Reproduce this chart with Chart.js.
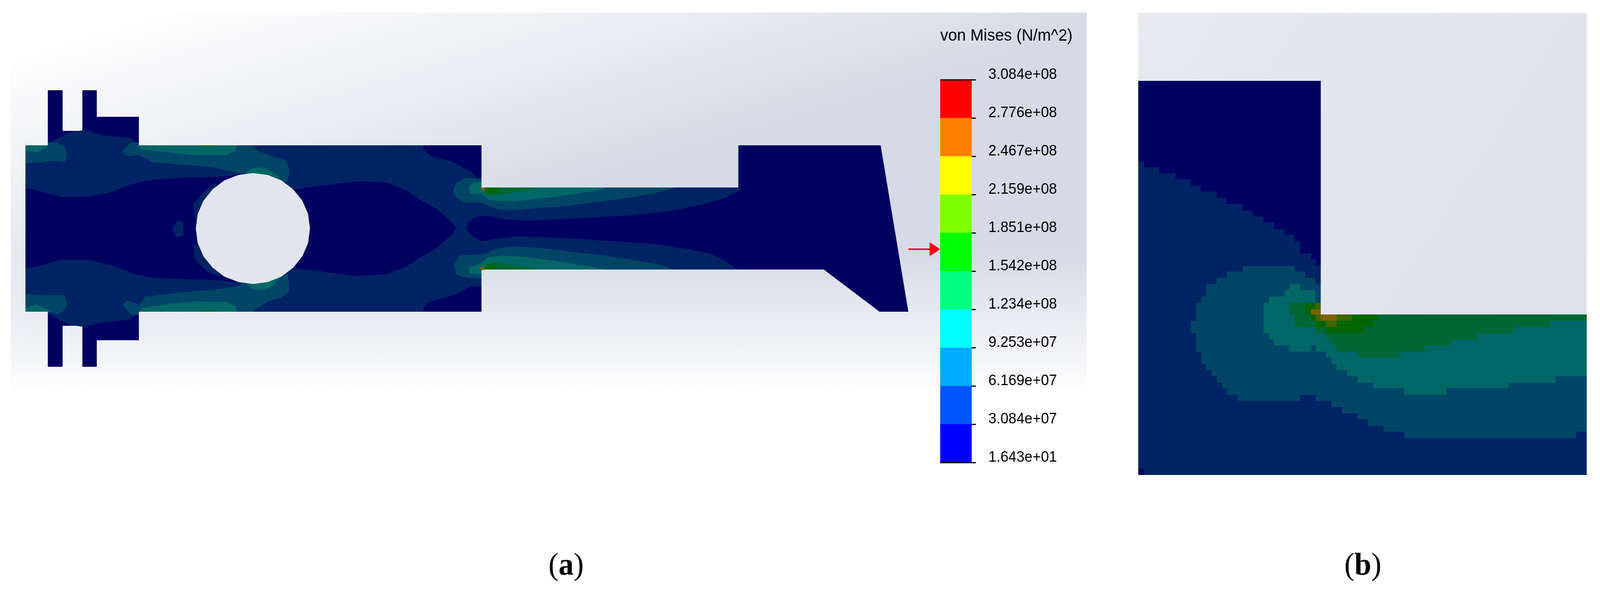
<!DOCTYPE html>
<html>
<head>
<meta charset="utf-8">
<title>von Mises stress</title>
<script src="https://cdn.jsdelivr.net/npm/chart.js@4/dist/chart.umd.js"></script>
<style>
    html, body { margin: 0; padding: 0; background: #fff; overflow: hidden; }
    #stage { position: relative; width: 4217px; height: 1513px; overflow: hidden; transform-origin: 0 0; }
    canvas { position: absolute; }
    #part { left: 0; top: 0; }
    #scale { left: 2470px; top: 40px; }
    .caption { position: absolute; top: 1399px; font: 80px "Liberation Serif", serif; color: #000; transform: translateX(-50%); }
</style>
</head>
<body>
<div id="stage">
    <canvas id="part" width="4217" height="1513"></canvas>
    <canvas id="scale" width="460" height="1200"></canvas>
    <div class="caption" style="left:1492px">(<b>a</b>)</div>
    <div class="caption" style="left:3592px">(<b>b</b>)</div>
</div>
<script>
// the window can come out narrower than the picture, squeeze the stage to fit
document.getElementById('stage').style.transform = 'scaleX(' + Math.min(1, window.innerWidth / 4217) + ')';

// colour scale
const SCALE_TITLE = 'von Mises (N/m^2)';
const TICK_VALUES = [1.643e1, 3.084e7, 6.169e7, 9.253e7, 1.234e8, 1.542e8, 1.851e8, 2.159e8, 2.467e8, 2.776e8, 3.084e8];
const TICK_LABELS = ['1.643e+01', '3.084e+07', '6.169e+07', '9.253e+07', '1.234e+08', '1.542e+08', '1.851e+08', '2.159e+08', '2.467e+08', '2.776e+08', '3.084e+08'];
const BAND_COLORS = ['#0000ff', '#0055ff', '#00aaff', '#00ffff', '#00ff80', '#00ff00', '#80ff00', '#ffff00', '#ff8000', '#ff0000'];

// shaded stress levels on the model
const L0 = '#000060', L1 = '#002364', L2 = '#004566', L3 = '#006666', L4 = '#006633', L5 = '#006600', L6 = '#3f6600', L7 = '#806000';

const A_OUTLINE = [[67,372],[126,372],[126,231],[165,231],[165,335],[217,335],[217,231],[255,231],[255,299],[366,299],[366,372],[1269,372],[1269,480],[1946,480],[1946,372],[2321,372],[2394,798],[2318,798],[2171,690],[1269,690],[1269,798],[366,798],[366,871],[255,871],[255,939],[217,939],[217,834],[165,834],[165,939],[126,939],[126,798],[67,798]];
const A_L1_UPPER = [[67,372],[126,372],[126,367],[183,338],[223,333],[268,346],[344,353],[366,372],[1116,372],[1116,383],[1134,399],[1196,415],[1241,440],[1269,466],[1269,480],[1946,480],[1953,480],[1953,486],[1904,509],[1850,524],[1761,541],[1671,551],[1573,556],[1502,560],[1412,564],[1359,564],[1323,561],[1292,554],[1267,552],[1247,560],[1234,572],[1228,585],[1203,585],[1189,568],[1154,537],[1100,507],[1071,488],[1018,467],[946,464],[848,475],[777,485],[625,448],[571,453],[478,455],[402,460],[357,469],[286,494],[232,504],[161,504],[98,488],[67,481]];
const A_L1_LOWER = [[67,687],[103,681],[161,665],[232,665],[295,679],[357,702],[402,711],[473,714],[571,717],[625,723],[777,687],[848,695],[938,707],[1018,702],[1071,682],[1100,664],[1154,633],[1189,602],[1203,585],[1228,585],[1247,606],[1267,618],[1305,612],[1359,605],[1404,606],[1502,610],[1573,615],[1627,618],[1738,626],[1805,637],[1868,648],[1904,664],[1944,690],[1269,690],[1269,734],[1241,733],[1196,756],[1134,772],[1116,786],[1116,798],[366,798],[344,818],[268,826],[223,837],[183,832],[126,804],[126,798],[67,798]];
const A_L1_CRESCENT_TOP = [[571,466],[536,491],[509,523],[513,552],[518,568],[560,520]];
const A_L1_CRESCENT_LOW = [[509,622],[513,663],[545,695],[580,708],[600,680]];
const A_L1_BLOB = [[469,563],[482,568],[484,603],[464,607],[453,587]];
const A_L2_TOP = [[366,372],[366,365],[344,365],[323,389],[335,400],[366,397],[402,415],[473,421],[554,427],[616,440],[643,445],[741,472],[759,462],[763,434],[754,411],[714,399],[679,386],[665,372]];
const A_L2_CORNER_TOP = [[67,372],[126,372],[126,365],[152,365],[170,376],[177,395],[170,415],[134,411],[116,416],[67,418]];
const A_L2_LOW = [[366,798],[366,807],[344,805],[323,781],[335,768],[366,781],[384,759],[473,749],[554,743],[625,733],[643,724],[741,708],[759,702],[762,746],[741,762],[705,772],[665,798]];
const A_L2_CORNER_LOW = [[67,753],[116,756],[170,756],[177,778],[170,794],[152,805],[126,798],[67,798]];
const A_L2_NECK_TOP = [[1269,457],[1265,457],[1225,456],[1203,468],[1194,488],[1203,507],[1221,519],[1270,519],[1310,535],[1341,539],[1372,537],[1417,532],[1466,530],[1537,522],[1636,509],[1716,497],[1774,482],[1777,480],[1269,480]];
const A_L2_NECK_LOW = [[1269,713],[1225,711],[1203,702],[1196,679],[1212,654],[1274,650],[1314,635],[1354,631],[1426,635],[1502,644],[1591,654],[1680,667],[1743,679],[1776,690],[1269,690]];
const A_L3_TOP = [[360,372],[375,383],[446,390],[509,397],[598,397],[621,386],[625,372]];
const A_L3_HOLE_TOP = [[647,443],[665,430],[692,429],[719,440],[737,458],[690,460]];
const A_L3_CORNER_TOP = [[67,372],[67,386],[94,390],[116,381],[134,367],[126,372]];
const A_L3_LOW = [[366,798],[375,788],[446,778],[509,772],[598,773],[621,785],[625,798]];
const A_L3_HOLE_LOW = [[647,724],[665,740],[692,743],[719,733],[737,711],[690,710]];
const A_L3_CORNER_LOW = [[67,798],[67,788],[94,779],[116,788],[134,798]];
const A_L3_NECK_TOP = [[1269,466],[1247,467],[1236,480],[1238,495],[1270,497],[1288,512],[1350,516],[1417,509],[1471,503],[1573,488],[1600,480],[1269,480]];
const A_L3_NECK_LOW = [[1269,702],[1238,700],[1234,685],[1265,675],[1288,658],[1323,654],[1386,658],[1471,669],[1546,681],[1596,690],[1269,690]];
const A_L4_STRIP_TOP = [[527,372],[576,372],[570,375],[533,375]];
const A_L4_STRIP_LOW = [[527,798],[576,798],[570,795],[533,795]];
const A_L4_NECK_TOP = [[1269,480],[1283,499],[1314,499],[1395,486],[1417,480]];
const A_L4_NECK_LOW = [[1269,690],[1279,679],[1301,671],[1350,679],[1417,688],[1420,690]];
const A_L5_NECK_TOP = [[1280,483],[1292,499],[1310,490],[1314,480],[1280,480]];
const A_L5_NECK_LOW = [[1275,690],[1283,678],[1300,675],[1310,690]];
const A_L7_NECK_TOP = [[1262,476],[1269,480],[1280,480],[1275,490]];
const A_L7_NECK_LOW = [[1265,685],[1272,682],[1280,690],[1269,692]];
const A_HOLE = [[817,585],[812,622],[797,656],[773,685],[742,708],[706,722],[667,727],[628,722],[591,708],[560,685],[536,656],[521,622],[516,585],[521,548],[536,514],[560,485],[591,462],[628,448],[667,443],[706,448],[742,462],[773,485],[797,514],[812,548]];
const ARROW_SHAFT = [[2394,636],[2450,636],[2450,640],[2394,640]];
const ARROW_HEAD = [[2450,620],[2478,638],[2450,656]];

// panel (b), same units
const B_OUTLINE = [[3000,207],[3481,207],[3481,805],[4182,805],[4182,1216],[3000,1216]];
const B_L1 = [[3000,413],[3015,413],[3015,428],[3055,428],[3055,444],[3097,444],[3097,459],[3138,459],[3138,475],[3165,475],[3165,490],[3207,490],[3207,507],[3233,507],[3233,522],[3275,522],[3275,539],[3302,539],[3302,554],[3330,554],[3330,570],[3358,570],[3358,586],[3386,586],[3386,601],[3412,601],[3412,618],[3427,618],[3427,649],[3455,649],[3455,664],[3467,664],[3467,681],[3481,681],[3481,805],[4182,805],[4182,1216],[3015,1216],[3015,1200],[3000,1200]];
const B_L2 = [[3275,681],[3412,681],[3412,695],[3440,695],[3440,711],[3467,711],[3467,727],[3481,727],[3481,805],[4182,805],[4182,1105],[4154,1105],[4154,1122],[3701,1122],[3701,1105],[3646,1105],[3646,1090],[3605,1090],[3605,1073],[3578,1073],[3578,1058],[3537,1058],[3537,1042],[3509,1042],[3509,1026],[3467,1026],[3467,1011],[3427,1011],[3427,1026],[3262,1026],[3262,1011],[3234,1011],[3234,994],[3221,994],[3221,979],[3207,979],[3207,962],[3193,962],[3193,947],[3179,947],[3179,932],[3166,932],[3166,900],[3152,900],[3152,853],[3138,853],[3138,822],[3152,822],[3152,775],[3166,775],[3166,759],[3179,759],[3179,727],[3207,727],[3207,711],[3234,711],[3234,695],[3275,695]];
const B_L3 = [[3330,775],[3344,775],[3344,759],[3385,759],[3385,743],[3398,743],[3398,727],[3427,727],[3427,743],[3467,743],[3467,775],[3481,775],[3481,805],[4182,805],[4182,963],[4100,963],[4100,980],[3976,980],[3976,994],[3812,994],[3812,1011],[3701,1011],[3701,994],[3619,994],[3619,980],[3578,980],[3578,963],[3550,963],[3550,947],[3523,947],[3523,932],[3509,932],[3509,915],[3495,915],[3495,900],[3467,900],[3467,884],[3455,884],[3455,900],[3398,900],[3398,884],[3358,884],[3358,869],[3344,869],[3344,853],[3330,853]];
const B_L4 = [[3398,775],[3467,775],[3481,790],[3481,805],[4182,805],[4182,821],[4085,821],[4085,837],[3990,837],[3990,853],[3894,853],[3894,869],[3825,869],[3825,884],[3756,884],[3756,900],[3687,900],[3687,915],[3578,915],[3578,900],[3523,900],[3523,884],[3509,884],[3509,869],[3495,869],[3495,853],[3467,853],[3467,837],[3412,837],[3412,805],[3398,805]];
const B_L5 = [[3439,775],[3467,775],[3467,792],[3481,805],[3633,805],[3633,821],[3619,821],[3619,837],[3592,837],[3592,853],[3495,853],[3495,837],[3467,837],[3467,821],[3455,821],[3455,805],[3439,805]];
const B_L6_A = [[3467,775],[3481,775],[3481,805],[3467,805]];
const B_L6_B = [[3467,805],[3564,805],[3564,821],[3467,821]];
const B_L6_C = [[3495,821],[3523,821],[3523,837],[3495,837]];
const B_L7_A = [[3455,792],[3481,792],[3481,805],[3455,805]];
const B_L7_B = [[3481,805],[3523,805],[3523,821],[3481,821]];

// painter's order, back to front
const LAYERS = [
    [A_OUTLINE, L0],
    [A_L1_UPPER, L1], [A_L1_LOWER, L1], [A_L1_CRESCENT_TOP, L1], [A_L1_CRESCENT_LOW, L1], [A_L1_BLOB, L1],
    [A_L2_TOP, L2], [A_L2_CORNER_TOP, L2], [A_L2_LOW, L2], [A_L2_CORNER_LOW, L2], [A_L2_NECK_TOP, L2], [A_L2_NECK_LOW, L2],
    [A_L3_TOP, L3], [A_L3_HOLE_TOP, L3], [A_L3_CORNER_TOP, L3], [A_L3_LOW, L3], [A_L3_HOLE_LOW, L3], [A_L3_CORNER_LOW, L3], [A_L3_NECK_TOP, L3], [A_L3_NECK_LOW, L3],
    [A_L4_STRIP_TOP, L4], [A_L4_STRIP_LOW, L4], [A_L4_NECK_TOP, L4], [A_L4_NECK_LOW, L4],
    [A_L5_NECK_TOP, L5], [A_L5_NECK_LOW, L5],
    [A_L7_NECK_TOP, L7], [A_L7_NECK_LOW, L7],
    [A_HOLE, '#e2e5ee'],
    [ARROW_SHAFT, '#ff0000'], [ARROW_HEAD, '#ff0000'],
    [B_OUTLINE, L0],
    [B_L1, L1], [B_L2, L2], [B_L3, L3], [B_L4, L4], [B_L5, L5],
    [B_L6_A, L6], [B_L6_B, L6], [B_L6_C, L6], [B_L7_A, L7], [B_L7_B, L7],
];

// the grey viewport shading behind both panels
const viewportBackground = {
    id: 'viewportBackground',
    beforeDatasetsDraw(chart) {
        const ctx = chart.ctx;
        ctx.save();
        let g = ctx.createLinearGradient(500, 0, 700, 700);
        g.addColorStop(0, '#ffffff');
        g.addColorStop(0.6, '#e9ebf1');
        g.addColorStop(1, '#d6dae6');
        ctx.fillStyle = g;
        ctx.fillRect(28, 32, 2836, 1181);
        g = ctx.createLinearGradient(0, 640, 0, 1010);
        g.addColorStop(0, 'rgba(255,255,255,0)');
        g.addColorStop(1, 'rgba(255,255,255,1)');
        ctx.fillStyle = g;
        ctx.fillRect(28, 640, 2836, 573);
        g = ctx.createLinearGradient(3000, 33, 4182, 805);
        g.addColorStop(0, '#e8eaf0');
        g.addColorStop(1, '#dee1eb');
        ctx.fillStyle = g;
        ctx.fillRect(3000, 33, 1182, 1183);
        ctx.restore();
    },
};

new Chart(document.getElementById('part'), {
    type: 'scatter',
    data: {
        // Chart.js paints the first dataset last
        datasets: LAYERS.slice().reverse().map(([pts, color]) => ({
            data: pts.map(([x, y]) => ({ x, y })),
            showLine: true,
            fill: 'shape',
            backgroundColor: color,
            borderWidth: 0,
            pointRadius: 0,
            tension: 0,
        })),
    },
    options: {
        responsive: false,
        animation: false,
        devicePixelRatio: 1,
        events: [],
        layout: { padding: 0 },
        plugins: { legend: { display: false }, tooltip: { enabled: false } },
        scales: {
            x: { type: 'linear', min: 0, max: 4217, display: false },
            y: { type: 'linear', min: 0, max: 1513, reverse: true, display: false },
        },
    },
    plugins: [viewportBackground],
});

new Chart(document.getElementById('scale'), {
    type: 'bar',
    data: {
        labels: [''],
        datasets: BAND_COLORS.map((color, i) => ({
            data: [[TICK_VALUES[i], TICK_VALUES[i + 1]]],
            backgroundColor: color,
            borderWidth: 0,
            grouped: false,
            categoryPercentage: 1,
            barPercentage: 1,
        })),
    },
    options: {
        responsive: false,
        animation: false,
        devicePixelRatio: 1,
        events: [],
        layout: { padding: { left: 8, bottom: 50 } },
        plugins: {
            legend: { display: false },
            tooltip: { enabled: false },
            title: {
                display: true,
                text: SCALE_TITLE,
                align: 'start',
                color: '#000',
                font: { family: '"Liberation Sans"', size: 42, weight: 'normal', lineHeight: 1.2 },
                padding: { top: 27, bottom: 87 },
            },
        },
        scales: {
            x: { display: false },
            y: {
                position: 'right',
                min: TICK_VALUES[0],
                max: TICK_VALUES[TICK_VALUES.length - 1],
                afterBuildTicks: axis => { axis.ticks = TICK_VALUES.map(value => ({ value })); },
                afterFit: axis => { axis.width = 369; },
                border: { display: false },
                grid: {
                    z: 1,
                    tickLength: 11,
                    tickColor: '#000',
                    lineWidth: 3,
                    color: c => (c.index === 0 || c.index === TICK_VALUES.length - 1) ? '#000' : 'rgba(0,0,0,0)',
                },
                ticks: {
                    autoSkip: false,
                    padding: 33,
                    labelOffset: -13,
                    color: '#000',
                    font: { family: '"Liberation Sans"', size: 38 },
                    callback: (v, i) => TICK_LABELS[i],
                },
            },
        },
    },
});
</script>
</body>
</html>
